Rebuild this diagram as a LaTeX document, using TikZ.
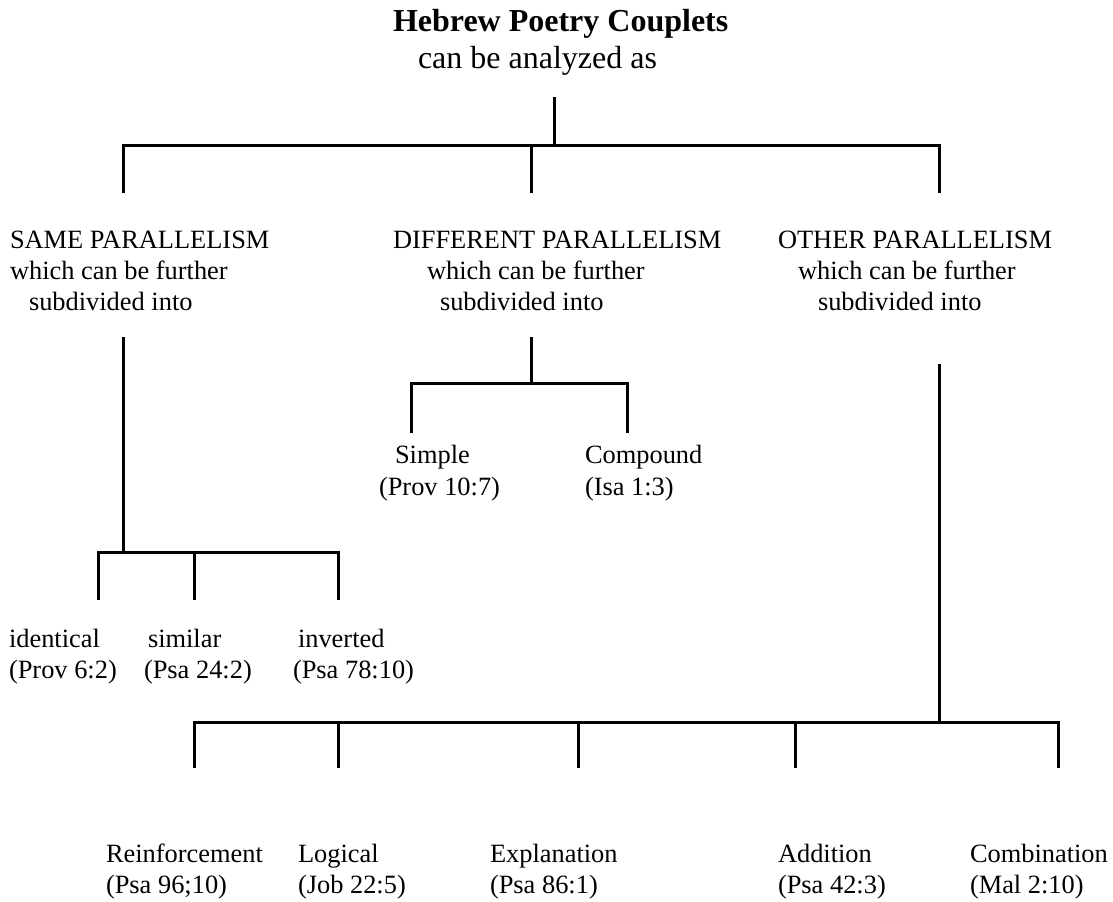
\documentclass[tikz,border=0pt]{standalone}
\usepackage{fontspec}
\setmainfont{Liberation Serif}
\begin{document}
\begin{tikzpicture}[x=1bp,y=-1bp,
  lbl/.style={anchor=base west,inner sep=0pt,outer sep=0pt,font=\fontsize{26.4bp}{31bp}\selectfont},
  ttl/.style={anchor=base west,inner sep=0pt,outer sep=0pt,font=\fontsize{32bp}{38bp}\selectfont},
  tree/.style={line width=3bp,line join=miter,line cap=butt}]
\useasboundingbox (0,0) rectangle (1113,902);
% texts
\node[ttl,font=\fontsize{32bp}{38bp}\selectfont\bfseries] (title) at (393,31) {Hebrew Poetry Couplets};
\node[ttl] (sub) at (418,68) {can be analyzed as};
\node[lbl] (same) at (10,248) {SAME PARALLELISM};
\node[lbl] (same2) at (10,279) {which can be further};
\node[lbl] (same3) at (29,310) {subdivided into};
\node[lbl] (diff) at (393,248) {DIFFERENT PARALLELISM};
\node[lbl] (diff2) at (427,279) {which can be further};
\node[lbl] (diff3) at (440,310) {subdivided into};
\node[lbl] (oth) at (778,248) {OTHER PARALLELISM};
\node[lbl] (oth2) at (798,279) {which can be further};
\node[lbl] (oth3) at (818,310) {subdivided into};
\node[lbl] (simple) at (395,463) {Simple};
\node[lbl] (simple2) at (379,495) {(Prov 10:7)};
\node[lbl] (comp) at (585,463) {Compound};
\node[lbl] (comp2) at (585,495) {(Isa 1:3)};
\node[lbl] (ident) at (9,647) {identical};
\node[lbl] (ident2) at (9,678) {(Prov 6:2)};
\node[lbl] (simil) at (148,647) {similar};
\node[lbl] (simil2) at (144,678) {(Psa 24:2)};
\node[lbl] (inv) at (298,647) {inverted};
\node[lbl] (inv2) at (293,678) {(Psa 78:10)};
\node[lbl] (reinf) at (106,862) {Reinforcement};
\node[lbl] (reinf2) at (106,893) {(Psa 96;10)};
\node[lbl] (logic) at (298,862) {Logical};
\node[lbl] (logic2) at (298,893) {(Job 22:5)};
\node[lbl] (expl) at (490,862) {Explanation};
\node[lbl] (expl2) at (490,893) {(Psa 86:1)};
\node[lbl] (addi) at (778,862) {Addition};
\node[lbl] (addi2) at (778,893) {(Psa 42:3)};
\node[lbl] (comb) at (970,862) {Combination};
\node[lbl] (comb2) at (970,893) {(Mal 2:10)};
% coordinates
\coordinate (r0) at (554,97);
\coordinate (r1) at (554,145);
\coordinate (t1) at (123,193);
\coordinate (t2) at (531,193);
\coordinate (t3) at (939,193);
\coordinate (s0) at (123,337);
\coordinate (s1) at (123,552);
\coordinate (s2) at (98,600);
\coordinate (s3) at (194,600);
\coordinate (s4) at (338,600);
\coordinate (d0) at (531,337);
\coordinate (d1) at (531,383);
\coordinate (d2) at (411,433);
\coordinate (d3) at (627,433);
\coordinate (o0) at (939,364);
\coordinate (o1) at (939,722);
\coordinate (o2) at (194,768);
\coordinate (o3) at (338,768);
\coordinate (o4) at (578,768);
\coordinate (o5) at (795,768);
\coordinate (o6) at (1058,768);
% top level
\draw[tree] (r0) -- (r1);
\draw[tree] (t1) |- (r1) -| (t3);
\draw[tree] (t2) -- (t2 |- r1);
% same
\draw[tree] (s0) -- (s1);
\draw[tree] (s2) |- (s1) -| (s4);
\draw[tree] (s3) -- (s3 |- s1);
% different
\draw[tree] (d0) -- (d1);
\draw[tree] (d2) |- (d1) -| (d3);
% other
\draw[tree] (o0) -- (o1);
\draw[tree] (o2) |- (o1) -| (o6);
\draw[tree] (o3) -- (o3 |- o1);
\draw[tree] (o4) -- (o4 |- o1);
\draw[tree] (o5) -- (o5 |- o1);
\end{tikzpicture}
\end{document}
